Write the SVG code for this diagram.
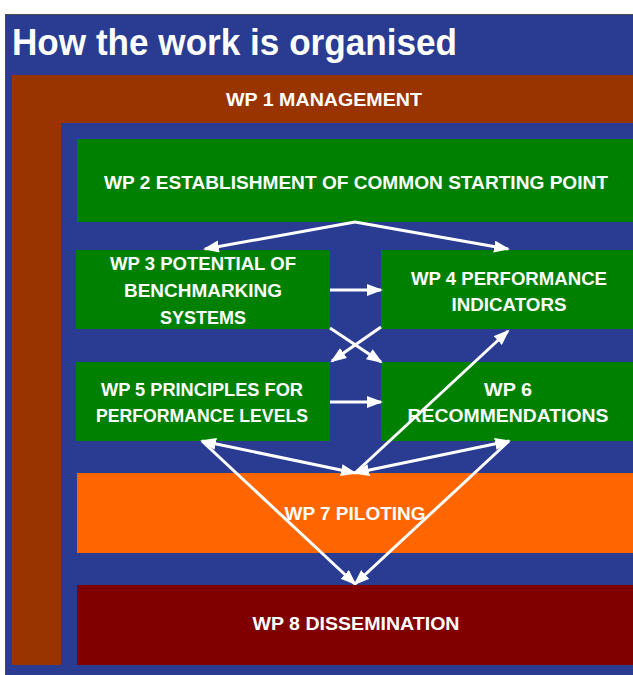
<svg xmlns="http://www.w3.org/2000/svg" width="633" height="675" viewBox="0 0 633 675">
  <defs>
    <style>
      .lbl { font-family: "Liberation Sans", Arial, sans-serif; font-weight: bold; font-size: 19px; fill: #ffffff; text-anchor: middle; dominant-baseline: central; }
      .title { font-family: "Liberation Sans", Arial, sans-serif; font-weight: bold; font-size: 36px; fill: #ffffff; }
      .con { stroke: #ffffff; stroke-width: 3; fill: none; }
    </style>
    <marker id="ah" markerUnits="userSpaceOnUse" markerWidth="18" markerHeight="14" refX="14" refY="6" orient="auto-start-reverse">
      <path d="M0,0 L16,6 L0,12 Z" fill="#ffffff"/>
    </marker>
  </defs>

  <rect x="0" y="0" width="633" height="675" fill="#ffffff"/>

  <g id="frame">
    <rect x="5.5" y="14.5" width="630" height="662" fill="#293C92" stroke="#4a4a4a" stroke-width="1"/>
    <text class="title" x="12" y="55" textLength="445" lengthAdjust="spacingAndGlyphs">How the work is organised</text>
  </g>

  <g id="wp1">
    <rect x="12" y="75" width="621" height="590" fill="#993300"/>
    <rect x="61" y="123" width="572" height="552" fill="#293C92"/>
    <text class="lbl" x="324" y="99" textLength="196" lengthAdjust="spacingAndGlyphs">WP 1 MANAGEMENT</text>
  </g>

  <g id="wp2">
    <rect x="77" y="139" width="556" height="83" fill="#008000"/>
    <text class="lbl" x="356" y="182" textLength="504" lengthAdjust="spacingAndGlyphs">WP 2 ESTABLISHMENT OF COMMON STARTING POINT</text>
  </g>

  <g id="wp3">
    <rect x="76" y="250" width="254" height="79" fill="#008000"/>
    <text class="lbl" x="203" y="263" textLength="186" lengthAdjust="spacingAndGlyphs">WP 3 POTENTIAL OF</text>
    <text class="lbl" x="203" y="290" textLength="158" lengthAdjust="spacingAndGlyphs">BENCHMARKING</text>
    <text class="lbl" x="203" y="317" textLength="86" lengthAdjust="spacingAndGlyphs">SYSTEMS</text>
  </g>

  <g id="wp4">
    <rect x="381" y="250" width="252" height="79" fill="#008000"/>
    <text class="lbl" x="509" y="278" textLength="196" lengthAdjust="spacingAndGlyphs">WP 4 PERFORMANCE</text>
    <text class="lbl" x="509" y="304" textLength="115" lengthAdjust="spacingAndGlyphs">INDICATORS</text>
  </g>

  <g id="wp5">
    <rect x="76" y="362" width="254" height="79" fill="#008000"/>
    <text class="lbl" x="202" y="389" textLength="202" lengthAdjust="spacingAndGlyphs">WP 5 PRINCIPLES FOR</text>
    <text class="lbl" x="202" y="415" textLength="212" lengthAdjust="spacingAndGlyphs">PERFORMANCE LEVELS</text>
  </g>

  <g id="wp6">
    <rect x="381" y="362" width="252" height="79" fill="#008000"/>
    <text class="lbl" x="508" y="389" textLength="48" lengthAdjust="spacingAndGlyphs">WP 6</text>
    <text class="lbl" x="508" y="415" textLength="201" lengthAdjust="spacingAndGlyphs">RECOMMENDATIONS</text>
  </g>

  <g id="wp7">
    <rect x="77" y="473" width="556" height="80" fill="#FF6600"/>
    <text class="lbl" x="355" y="513" textLength="141" lengthAdjust="spacingAndGlyphs">WP 7 PILOTING</text>
  </g>

  <g id="wp8">
    <rect x="77" y="585" width="556" height="80" fill="#800000"/>
    <text class="lbl" x="356" y="623" textLength="207" lengthAdjust="spacingAndGlyphs">WP 8 DISSEMINATION</text>
  </g>

  <g id="connectors" class="con">
    <line x1="355" y1="222" x2="205" y2="249" marker-end="url(#ah)"/>
    <line x1="355" y1="222" x2="508" y2="249" marker-end="url(#ah)"/>
    <line x1="330" y1="290" x2="381" y2="290" marker-end="url(#ah)"/>
    <line x1="330" y1="328" x2="381" y2="362" marker-end="url(#ah)"/>
    <line x1="381" y1="327" x2="332" y2="361" marker-end="url(#ah)"/>
    <line x1="330" y1="402" x2="381" y2="402" marker-end="url(#ah)"/>
    <line x1="355" y1="473" x2="508" y2="331" marker-end="url(#ah)"/>
    <line x1="202" y1="441" x2="355" y2="473" marker-start="url(#ah)" marker-end="url(#ah)"/>
    <line x1="509" y1="441" x2="355" y2="473" marker-start="url(#ah)" marker-end="url(#ah)"/>
    <line x1="202" y1="441" x2="355" y2="584" marker-end="url(#ah)"/>
    <line x1="509" y1="441" x2="355" y2="584" marker-end="url(#ah)"/>
  </g>
</svg>
